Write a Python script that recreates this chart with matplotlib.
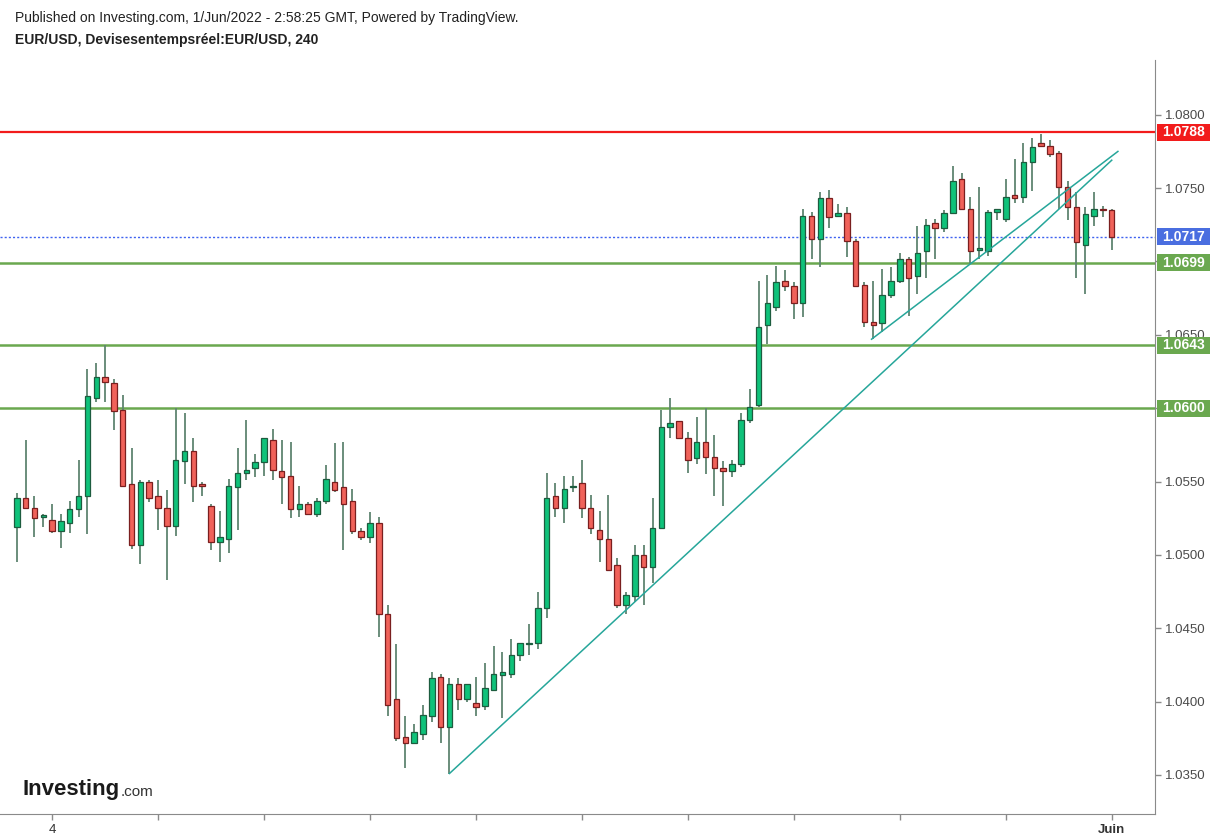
import matplotlib
matplotlib.use("Agg")
import matplotlib.pyplot as plt
import matplotlib.transforms as mtransforms
from matplotlib.patches import Rectangle
import numpy as np

plt.rcParams['font.family'] = ['Liberation Sans', 'DejaVu Sans']

# 4H candles, index 0 = 4 May 00:00, 120 = 1 June 00:00
candle_idx = list(range(-4, 121))
opens = [1.0519, 1.0539, 1.0532, 1.0526, 1.0524, 1.0516, 1.0522, 1.0531, 1.0540, 1.0607,
         1.0621, 1.0617, 1.0599, 1.0548, 1.0507, 1.0550, 1.0540, 1.0532, 1.0520, 1.0564,
         1.0571, 1.0548, 1.0533, 1.0509, 1.0511, 1.0546, 1.0556, 1.0559, 1.0563, 1.0578,
         1.0557, 1.0554, 1.0531, 1.0535, 1.0528, 1.0537, 1.0550, 1.0546, 1.0537, 1.0516,
         1.0512, 1.0522, 1.0460, 1.0402, 1.0376, 1.0372, 1.0378, 1.0390, 1.0417, 1.0383,
         1.0412, 1.0402, 1.0399, 1.0397, 1.0408, 1.0418, 1.0419, 1.0432, 1.0439, 1.0440,
         1.0464, 1.0540, 1.0532, 1.0546, 1.0549, 1.0532, 1.0517, 1.0511, 1.0493, 1.0466,
         1.0472, 1.0500, 1.0492, 1.0518, 1.0587, 1.0591, 1.0580, 1.0566, 1.0577, 1.0567,
         1.0559, 1.0557, 1.0562, 1.0592, 1.0602, 1.0657, 1.0669, 1.0687, 1.0683, 1.0672,
         1.0731, 1.0715, 1.0743, 1.0731, 1.0733, 1.0714, 1.0684, 1.0659, 1.0658, 1.0677,
         1.0687, 1.0702, 1.0690, 1.0707, 1.0726, 1.0723, 1.0733, 1.0756, 1.0736, 1.0708,
         1.0707, 1.0734, 1.0729, 1.0745, 1.0744, 1.0768, 1.0781, 1.0779, 1.0774, 1.0751,
         1.0737, 1.0711, 1.0731, 1.0736, 1.0735]
highs = [1.0542, 1.0578, 1.0540, 1.0528, 1.0535, 1.0528, 1.0537, 1.0565, 1.0627, 1.0631,
         1.0643, 1.0620, 1.0609, 1.0573, 1.0551, 1.0551, 1.0551, 1.0544, 1.0600, 1.0597,
         1.0580, 1.0550, 1.0535, 1.0530, 1.0552, 1.0573, 1.0592, 1.0569, 1.0580, 1.0586,
         1.0578, 1.0577, 1.0547, 1.0536, 1.0539, 1.0561, 1.0576, 1.0577, 1.0545, 1.0518,
         1.0529, 1.0526, 1.0466, 1.0439, 1.0390, 1.0385, 1.0398, 1.0420, 1.0419, 1.0416,
         1.0416, 1.0412, 1.0417, 1.0426, 1.0438, 1.0434, 1.0443, 1.0440, 1.0453, 1.0475,
         1.0556, 1.0549, 1.0554, 1.0554, 1.0565, 1.0541, 1.0530, 1.0541, 1.0498, 1.0475,
         1.0507, 1.0507, 1.0539, 1.0599, 1.0607, 1.0591, 1.0584, 1.0594, 1.0600, 1.0582,
         1.0564, 1.0565, 1.0597, 1.0613, 1.0687, 1.0691, 1.0697, 1.0694, 1.0686, 1.0736,
         1.0734, 1.0747, 1.0749, 1.0739, 1.0737, 1.0715, 1.0686, 1.0687, 1.0695, 1.0696,
         1.0706, 1.0703, 1.0724, 1.0729, 1.0729, 1.0735, 1.0765, 1.0760, 1.0744, 1.0751,
         1.0735, 1.0736, 1.0756, 1.0770, 1.0781, 1.0784, 1.0787, 1.0783, 1.0775, 1.0755,
         1.0747, 1.0737, 1.0747, 1.0738, 1.0736]
lows = [1.0495, 1.0531, 1.0512, 1.0519, 1.0515, 1.0505, 1.0515, 1.0526, 1.0514, 1.0604,
        1.0604, 1.0585, 1.0546, 1.0504, 1.0494, 1.0536, 1.0517, 1.0483, 1.0513, 1.0548,
        1.0536, 1.0540, 1.0503, 1.0495, 1.0501, 1.0517, 1.0551, 1.0553, 1.0554, 1.0551,
        1.0535, 1.0525, 1.0526, 1.0527, 1.0526, 1.0535, 1.0543, 1.0503, 1.0514, 1.0510,
        1.0508, 1.0444, 1.0390, 1.0373, 1.0355, 1.0372, 1.0374, 1.0386, 1.0372, 1.0351,
        1.0394, 1.0400, 1.0390, 1.0394, 1.0407, 1.0389, 1.0416, 1.0428, 1.0432, 1.0436,
        1.0457, 1.0526, 1.0522, 1.0543, 1.0525, 1.0514, 1.0495, 1.0490, 1.0464, 1.0460,
        1.0468, 1.0466, 1.0481, 1.0518, 1.0580, 1.0579, 1.0556, 1.0562, 1.0555, 1.0540,
        1.0533, 1.0553, 1.0560, 1.0590, 1.0601, 1.0644, 1.0666, 1.0680, 1.0661, 1.0662,
        1.0702, 1.0696, 1.0723, 1.0730, 1.0703, 1.0683, 1.0655, 1.0647, 1.0652, 1.0675,
        1.0685, 1.0663, 1.0678, 1.0689, 1.0702, 1.0720, 1.0732, 1.0735, 1.0698, 1.0702,
        1.0704, 1.0728, 1.0727, 1.0740, 1.0740, 1.0748, 1.0778, 1.0771, 1.0736, 1.0728,
        1.0689, 1.0678, 1.0724, 1.0730, 1.0708]
closes = [1.0539, 1.0532, 1.0525, 1.0527, 1.0516, 1.0523, 1.0531, 1.0540, 1.0608, 1.0621,
          1.0618, 1.0598, 1.0547, 1.0507, 1.0550, 1.0539, 1.0532, 1.0520, 1.0565, 1.0571,
          1.0547, 1.0547, 1.0509, 1.0512, 1.0547, 1.0556, 1.0558, 1.0563, 1.0580, 1.0558,
          1.0553, 1.0531, 1.0535, 1.0528, 1.0537, 1.0552, 1.0544, 1.0535, 1.0516, 1.0512,
          1.0522, 1.0460, 1.0398, 1.0375, 1.0372, 1.0379, 1.0391, 1.0416, 1.0383, 1.0412,
          1.0402, 1.0412, 1.0396, 1.0409, 1.0419, 1.0420, 1.0432, 1.0440, 1.0440, 1.0464,
          1.0539, 1.0532, 1.0545, 1.0547, 1.0532, 1.0518, 1.0511, 1.0490, 1.0466, 1.0473,
          1.0500, 1.0492, 1.0518, 1.0587, 1.0590, 1.0580, 1.0565, 1.0577, 1.0567, 1.0559,
          1.0557, 1.0562, 1.0592, 1.0601, 1.0655, 1.0672, 1.0686, 1.0683, 1.0672, 1.0731,
          1.0715, 1.0743, 1.0730, 1.0733, 1.0714, 1.0683, 1.0659, 1.0657, 1.0677, 1.0687,
          1.0702, 1.0689, 1.0706, 1.0725, 1.0723, 1.0733, 1.0755, 1.0736, 1.0707, 1.0709,
          1.0734, 1.0736, 1.0744, 1.0743, 1.0768, 1.0778, 1.0779, 1.0773, 1.0751, 1.0737,
          1.0713, 1.0732, 1.0736, 1.0735, 1.0717]

# horizontal levels drawn on the chart
resistance = 1.0788
supports = [1.0699, 1.0643, 1.0600]
last_price = 1.0717

# trend lines: (start index, start price, end index, end price)
trend_lines = [(45, 1.0351, 120.0, 1.0769),
               (92.8, 1.0647, 120.7, 1.0775)]

ytick_vals = [1.0350, 1.0400, 1.0450, 1.0500, 1.0550, 1.0600, 1.0650, 1.0700, 1.0750, 1.0800]
ytick_hidden = [1.0600, 1.0700]
xtick_pos = list(range(0, 121, 12))
xtick_labels = ['4', '', '', '', '', '', '', '', '', '', 'Juin']

up_fill, up_edge = '#0fc27a', '#1d5c3f'
dn_fill, dn_edge = '#f0625a', '#7a1f1f'
wick_col = '#5f8571'
red_line = '#f21c1c'
green_line = '#6aa84f'
blue_line = '#3f63f0'
trend_col = '#26a69a'

fig = plt.figure(figsize=(12.16, 8.4), dpi=100)
ax = fig.add_axes([0.0, 26 / 840, 1155 / 1216, (814 - 60) / 840])

x = np.array(candle_idx, dtype=float)
o = np.array(opens); h = np.array(highs); l = np.array(lows); c = np.array(closes)
up = c >= o

ax.vlines(x, l, h, color=wick_col, linewidth=1.3, zorder=3)
body_low = np.minimum(o, c)
body_h = np.maximum(np.abs(c - o), 0.00005)
ax.bar(x[up], body_h[up], bottom=body_low[up], width=0.62, color=up_fill,
       edgecolor=up_edge, linewidth=0.9, zorder=4)
ax.bar(x[~up], body_h[~up], bottom=body_low[~up], width=0.62, color=dn_fill,
       edgecolor=dn_edge, linewidth=0.9, zorder=4)

# levels
ax.axhline(resistance, color=red_line, linewidth=1.6, zorder=2)
for s in supports:
    ax.axhline(s, color=green_line, linewidth=1.8, zorder=2)
ax.axhline(last_price, color=blue_line, linewidth=1.0, linestyle=(0, (1.5, 1.5)), zorder=2)

for x0, y0, x1, y1 in trend_lines:
    ax.plot([x0, x1], [y0, y1], color=trend_col, linewidth=1.1, zorder=5)

ax.set_xlim(-5.9, 124.9)
ax.set_ylim(1.03234, 1.08373)

for side in ['left', 'top']:
    ax.spines[side].set_visible(False)
ax.spines['right'].set_color('#8a8a8a')
ax.spines['bottom'].set_color('#8a8a8a')

ax.yaxis.tick_right()
ax.set_yticks(ytick_vals)
ax.set_yticklabels(['' if v in ytick_hidden else f'{v:.4f}' for v in ytick_vals])
ax.tick_params(axis='y', direction='out', length=4, width=1, color='#8a8a8a',
               labelcolor='#4a4a4a', labelsize=9.5, pad=3)
ax.set_xticks(xtick_pos)
ax.set_xticklabels(xtick_labels)
ax.tick_params(axis='x', direction='out', length=4, width=1, color='#8a8a8a',
               labelcolor='#333333', labelsize=9.5, pad=3)
for lbl in ax.get_xticklabels():
    if lbl.get_text() == 'Juin':
        lbl.set_fontweight('bold')

# coloured price boxes on the right scale
trans = mtransforms.blended_transform_factory(ax.transAxes, ax.transData)
ppx = (ax.get_ylim()[1] - ax.get_ylim()[0]) / 754.0   # price per pixel
box_x0, box_x1 = 1157 / 1155, 1210 / 1155
boxes = [(resistance, red_line), (last_price, '#4a6ee0')] + [(s, '#6aa84f') for s in supports]
for val, col in boxes:
    ax.add_patch(Rectangle((box_x0, val - 8.5 * ppx), box_x1 - box_x0, 17 * ppx,
                           transform=trans, facecolor=col, edgecolor='none',
                           clip_on=False, zorder=9))
    ax.text((box_x0 + box_x1) / 2, val, f'{val:.4f}', transform=trans, ha='center', va='center',
            fontsize=10, fontweight='bold', color='white', clip_on=False, zorder=10)

# header
fig.text(15 / 1216, 1 - 18 / 840, 'Published on Investing.com, 1/Jun/2022 - 2:58:25 GMT, Powered by TradingView.',
         fontsize=10, color='#222222', va='center', ha='left')
fig.text(15 / 1216, 1 - 40 / 840, 'EUR/USD, Devisesentempsréel:EUR/USD, 240',
         fontsize=10, fontweight='bold', color='#222222', va='center', ha='left')

# watermark logo
fig.text(22 / 1216, 1 - 790 / 840, 'Investing', fontsize=16, fontweight='bold',
         color='#1a1a1a', va='center', ha='left')
fig.text(121 / 1216, 1 - 792 / 840, '.com', fontsize=11, color='#333333',
         va='center', ha='left')

fig.savefig('out.png', dpi=100, facecolor='white')
